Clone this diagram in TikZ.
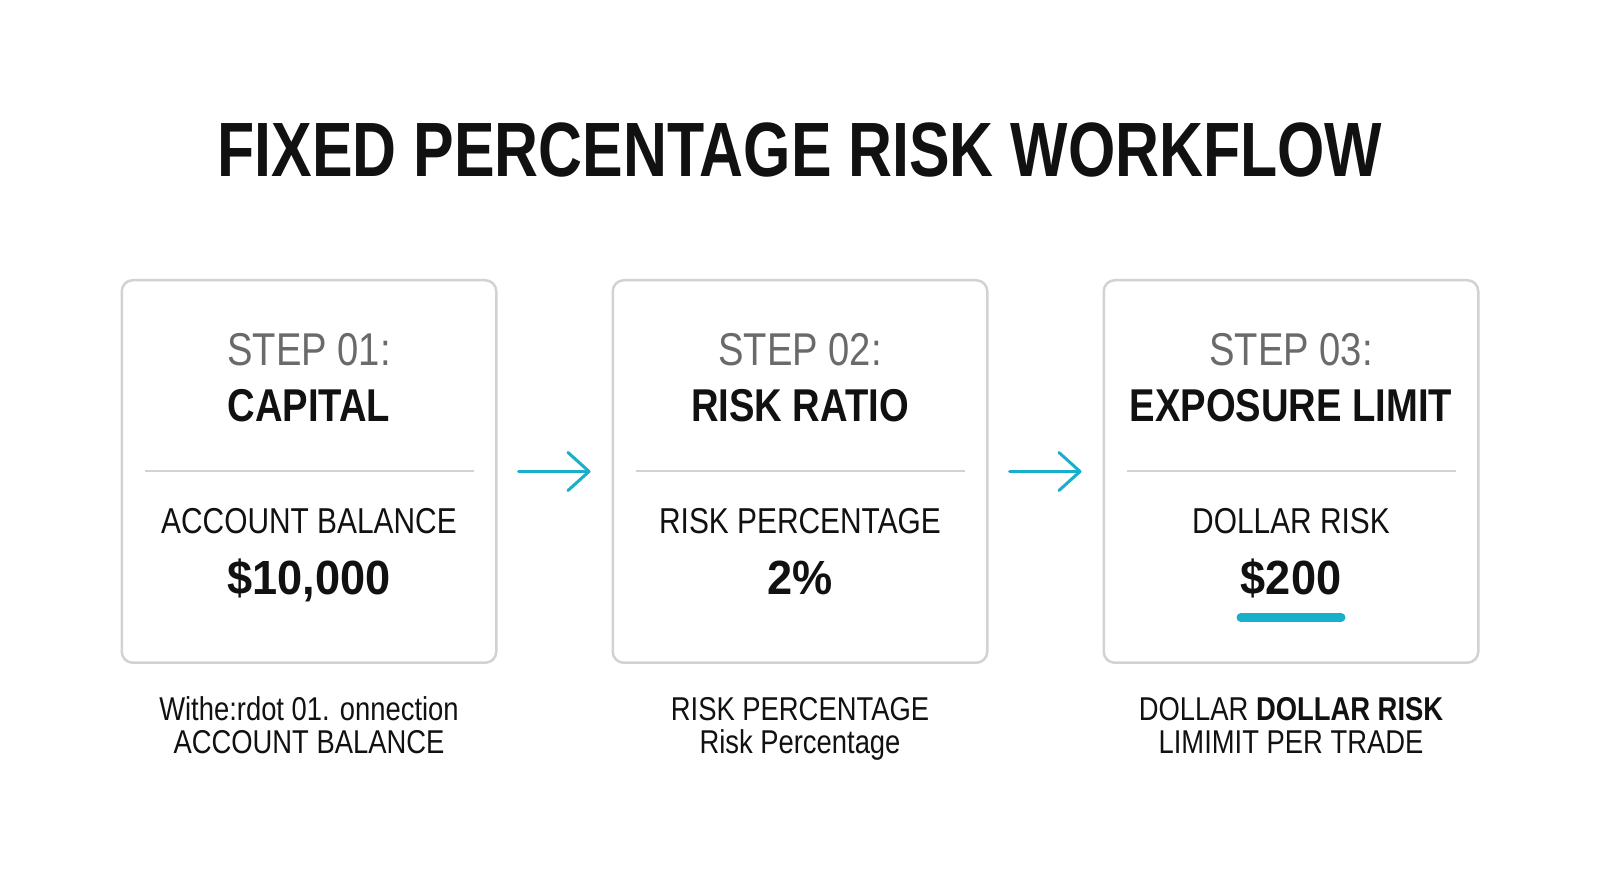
\documentclass[tikz,border=0pt]{standalone}
\usepackage{fontspec}
\setmainfont{Liberation Sans}[FakeStretch=0.83]
\newfontfamily\titlefont{Liberation Sans}[FakeStretch=0.79]
\newfontfamily\valuefont{Liberation Sans}[FakeStretch=0.94]
\usetikzlibrary{positioning,arrows.meta}
\definecolor{flowcyan}{HTML}{19AEC9}
\definecolor{boxgray}{HTML}{D2D2D2}
\definecolor{stepgray}{HTML}{6A6A6A}
\definecolor{inkblack}{HTML}{111111}

\begin{document}
\begin{tikzpicture}[x=1pt, y=1pt, node distance=114pt,
        box/.style={draw=boxgray, line width=2.5pt, rounded corners=11pt, minimum width=374.5pt, minimum height=382.5pt},
        steplabel/.style={anchor=base, text=stepgray, font=\fontsize{46}{55}\selectfont},
        headlabel/.style={anchor=base, text=inkblack, font=\bfseries\fontsize{46}{55}\selectfont},
        vlabel/.style={anchor=base, text=inkblack, font=\fontsize{36}{43}\selectfont},
        vbig/.style={anchor=base, text=inkblack, font=\valuefont\bfseries\fontsize{48}{58}\selectfont},
        caption/.style={anchor=base, text=inkblack, font=\fontsize{33}{40}\selectfont},
        divider/.style={draw=boxgray, line width=2pt},
        flow/.style={draw=flowcyan, line width=3pt, line cap=round, shorten <=21pt, shorten >=21pt,
            -{Straight Barb[length=21pt, width=38pt, line cap=round, line join=round]}}]
    \useasboundingbox[fill=white] (0,0) rectangle (1600,893);

    \node[anchor=base, text=inkblack, font=\titlefont\bfseries\fontsize{77}{90}\selectfont] (title) at (800,716) {FIXED PERCENTAGE RISK WORKFLOW};

    \node[box] (b1) at (309,421.5) {};
    \node[box] (b2) [right=of b1] {};
    \node[box] (b3) [right=of b2] {};

    \draw[flow] (b1.east) -- (b2.west);
    \draw[flow] (b2.east) -- (b3.west);

    % box 1
    \node[steplabel] (s1) at ([yshift=106pt] b1.center) {STEP 01:};
    \node[headlabel] (h1) at ([yshift=50pt] b1.center) {CAPITAL};
    \draw[divider] ([xshift=24pt] b1.west) -- ([xshift=-24pt] b1.east);
    \node[vlabel] (l1) at ([yshift=-62pt] b1.center) {ACCOUNT BALANCE};
    \node[vbig] (v1) at ([yshift=-123pt] b1.center) {\$10,000};
    \node[caption] (c1) at ([yshift=-57pt] b1.south) {Withe:rdot 01. onnection};
    \node[caption] (d1) at ([yshift=-33pt] c1.base) {ACCOUNT BALANCE};

    % box 2
    \node[steplabel] (s2) at ([yshift=106pt] b2.center) {STEP 02:};
    \node[headlabel] (h2) at ([yshift=50pt] b2.center) {RISK RATIO};
    \draw[divider] ([xshift=24pt] b2.west) -- ([xshift=-24pt] b2.east);
    \node[vlabel] (l2) at ([yshift=-62pt] b2.center) {RISK PERCENTAGE};
    \node[vbig] (v2) at ([yshift=-123pt] b2.center) {2\%};
    \node[caption] (c2) at ([yshift=-57pt] b2.south) {RISK PERCENTAGE};
    \node[caption] (d2) at ([yshift=-33pt] c2.base) {Risk Percentage};

    % box 3
    \node[steplabel] (s3) at ([yshift=106pt] b3.center) {STEP 03:};
    \node[headlabel] (h3) at ([yshift=50pt] b3.center) {EXPOSURE LIMIT};
    \draw[divider] ([xshift=24pt] b3.west) -- ([xshift=-24pt] b3.east);
    \node[vlabel] (l3) at ([yshift=-62pt] b3.center) {DOLLAR RISK};
    \node[vbig] (v3) at ([yshift=-123pt] b3.center) {\$200};
    \draw[flowcyan, line width=9pt, line cap=round] ([xshift=-50pt, yshift=-23pt] v3.base) -- ([xshift=50pt, yshift=-23pt] v3.base);
    \node[caption] (c3) at ([yshift=-57pt] b3.south) {DOLLAR \textbf{DOLLAR RISK}};
    \node[caption] (d3) at ([yshift=-33pt] c3.base) {LIMIMIT PER TRADE};
\end{tikzpicture}
\end{document}
